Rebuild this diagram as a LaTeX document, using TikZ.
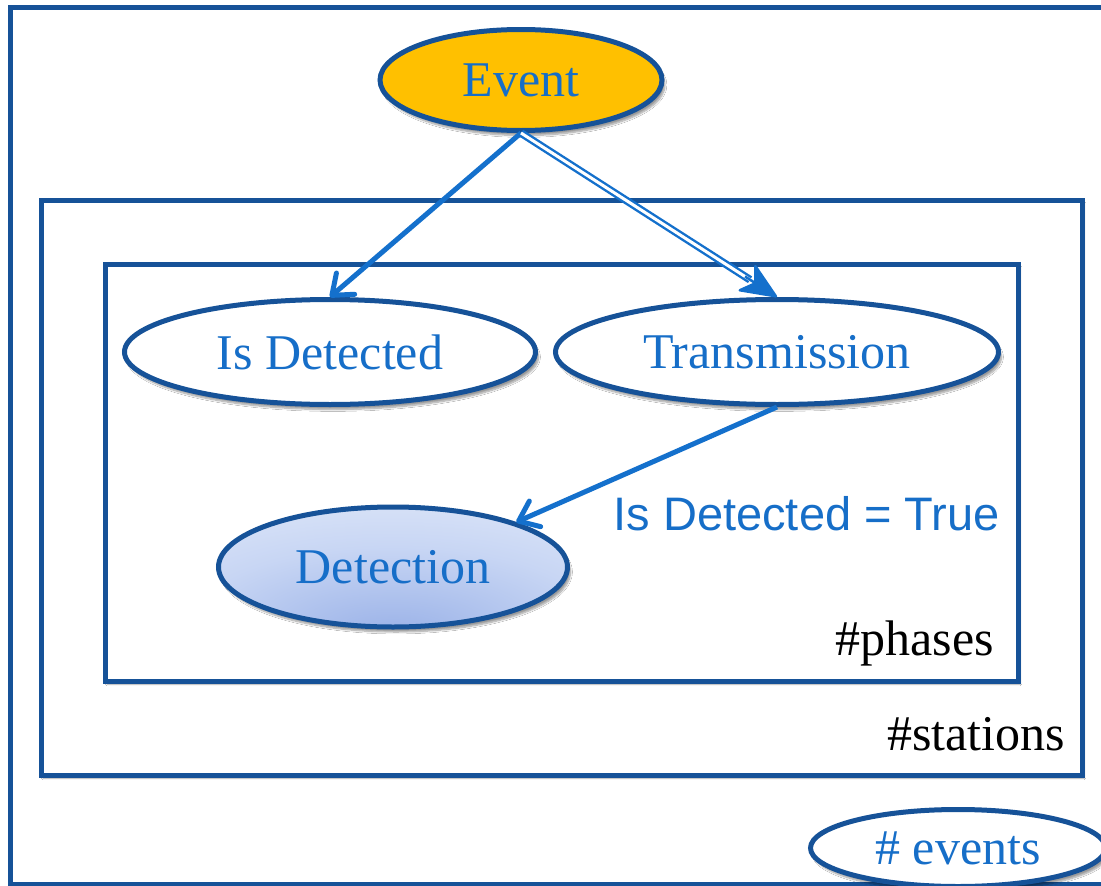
\documentclass[tikz,border=0pt]{standalone}
\usepackage{fontspec}
\setmainfont{Liberation Serif}
\newfontfamily\labelsans{Liberation Sans}
\usetikzlibrary{shapes.geometric,arrows.meta,shadows.blur,calc}

\definecolor{frameblue}{RGB}{22,82,152}
\definecolor{arrowblue}{RGB}{20,112,204}
\definecolor{textblue}{RGB}{22,110,200}
\definecolor{eventgold}{RGB}{255,192,0}
\definecolor{detA}{RGB}{152,176,231}
\definecolor{detB}{RGB}{200,214,244}
\definecolor{detC}{RGB}{230,237,250}

\pgfdeclareradialshading{detshade}{\pgfpoint{0bp}{-30bp}}{%
  color(0bp)=(detA); color(28bp)=(detB); color(55bp)=(detC); color(80bp)=(detC)}

\tikzset{
  plate/.style={draw=frameblue, line width=5pt, fill=white,
    blur shadow={shadow xshift=2pt, shadow yshift=-3pt, shadow blur steps=6, shadow opacity=35}},
  var/.style={ellipse, draw=frameblue, line width=5pt, inner sep=0pt,
    text=textblue, font=\fontsize{50}{60}\selectfont,
    blur shadow={shadow xshift=3pt, shadow yshift=-5pt, shadow blur steps=8, shadow opacity=40}},
  platelabel/.style={font=\fontsize{50}{60}\selectfont, text=black, inner sep=0pt},
  edge/.style={draw=arrowblue, line width=5pt,
    -{Straight Barb[length=18pt, width=28pt, round]}},
  dbledge/.style={draw=arrowblue, line width=2.4pt, double=white, double distance=3pt},
  dblhead/.style={draw=arrowblue, fill=arrowblue, line width=2.5pt,
    -{Stealth[length=40pt, width=34pt, inset=11pt, round]}},
}

\begin{document}
\begin{tikzpicture}[x=1pt, y=-1pt]
  \useasboundingbox (0,0) rectangle (1101,886);
  \clip (0,0) rectangle (1101,886);
  \fill[white] (0,0) rectangle (1101,886);

  % nested plates
  \draw[draw=frameblue, line width=5pt] (10,7) rectangle (1120,884);
  \draw[plate] (41,200) rectangle (1082,775);
  \draw[plate] (105,264) rectangle (1018,681);

  \node[platelabel, anchor=base east] (stations) at (1065,750) {\#stations};
  \node[platelabel, anchor=base east] (phases) at (994,655) {\#phases};

  % variables
  \node[var, fill=eventgold, minimum width=282pt, minimum height=101pt] (ev) at (521,80) {Event};
  \node[var, fill=white, minimum width=411pt, minimum height=105pt] (isdet) at (330,352) {Is Detected};
  \node[var, fill=white, minimum width=443pt, minimum height=105pt] (tr) at (777,352) {Transmission};
  \node[var, shading=detshade, minimum width=349pt, minimum height=120pt] (det) at (393,567) {Detection};
  \node[var, fill=white, minimum width=295pt, minimum height=77pt] (nev) at (958,848) {\# events};

  % dependencies
  \draw[edge] (ev.south) -- (isdet.north);
  \draw[dbledge, shorten >=32pt] (ev.south) -- (tr.north);
  \draw[dblhead] ($(tr.north)!38pt!(ev.south)$) -- (tr.north);
  \draw[edge] (tr.south) -- (det.20);

  \node[anchor=base east, inner sep=0pt, text=textblue, font=\labelsans\fontsize{47}{56}\selectfont] (cond) at (1000,530) {Is Detected = True};
\end{tikzpicture}
\end{document}
